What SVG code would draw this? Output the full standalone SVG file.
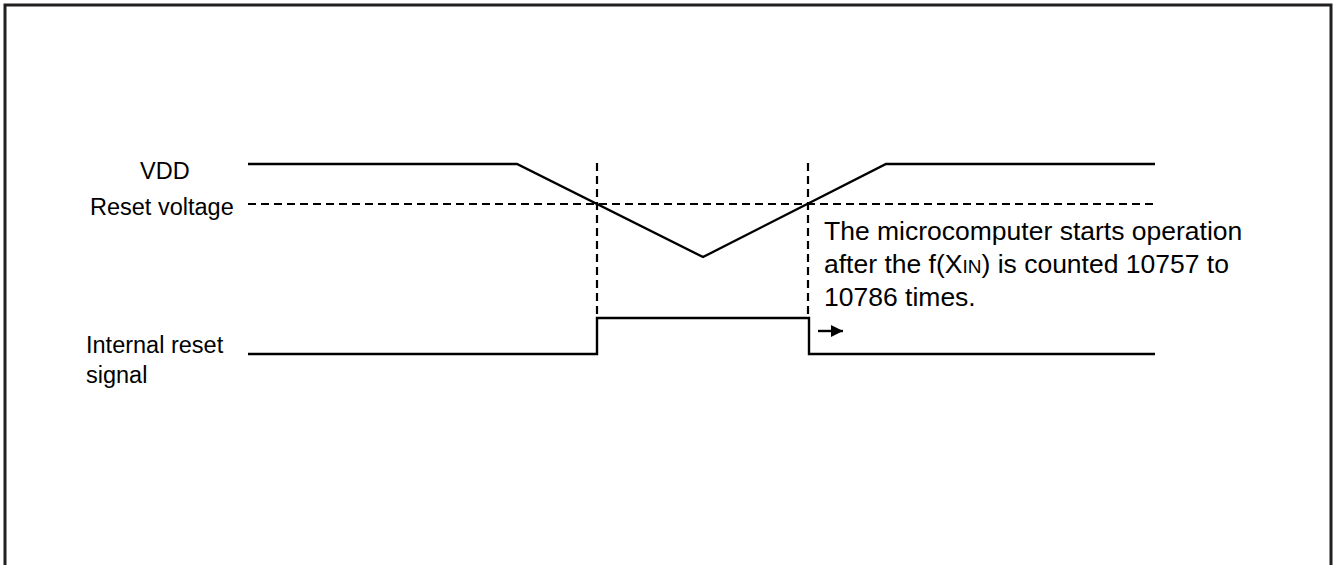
<svg xmlns="http://www.w3.org/2000/svg" width="1335" height="565" viewBox="0 0 1335 565">
<defs>
<style>
.lbl{font-family:"Liberation Sans",Arial,sans-serif;font-size:23.5px;fill:#000}
.note{font-family:"Liberation Sans",Arial,sans-serif;font-size:26.5px;fill:#000}
.sig{fill:none;stroke:#000;stroke-width:2.4;stroke-linejoin:miter}
.dash{fill:none;stroke:#000;stroke-width:2.2;stroke-dasharray:8 5}
</style>
<marker id="ah" markerWidth="12" markerHeight="12" refX="12" refY="6" orient="auto" markerUnits="userSpaceOnUse" viewBox="0 0 12 12"><path d="M0,0 L12,6 L0,12 Z" fill="#000"/></marker>
</defs>
<rect width="1335" height="565" fill="#fff"/>
<rect id="frame" x="5" y="5" width="1326" height="620" fill="none" stroke="#231f20" stroke-width="3"/>
<g id="labels">
<text id="vdd-label" class="lbl" x="140" y="179">VDD</text>
<text id="reset-voltage-label" class="lbl" x="90" y="215">Reset voltage</text>
<text id="internal-reset-label" class="lbl" x="86" y="353">Internal reset<tspan x="86" y="383">signal</tspan></text>
</g>
<g id="note">
<text class="note" x="824" y="240">The microcomputer starts operation</text>
<text class="note" x="824" y="273">after the f(X<tspan font-size="19">IN</tspan>) is counted 10757 to</text>
<text class="note" x="824" y="306">10786 times.</text>
</g>
<g id="connectors">
<path id="vdd" class="sig" d="M248,164 L517,164 L703,257 L886,164 L1155,164"/>
<line id="reset-voltage" class="dash" x1="248" y1="204" x2="1158" y2="204"/>
<line id="vline1" class="dash" x1="597" y1="163" x2="597" y2="318"/>
<line id="vline2" class="dash" x1="808" y1="163" x2="808" y2="318"/>
<path id="reset-signal" class="sig" d="M248,354 L597,354 L597,318 L809,318 L809,354 L1155,354"/>
<line id="arrow" x1="818" y1="331" x2="843" y2="331" stroke="#000" stroke-width="2.4" marker-end="url(#ah)"/>
</g>
</svg>
